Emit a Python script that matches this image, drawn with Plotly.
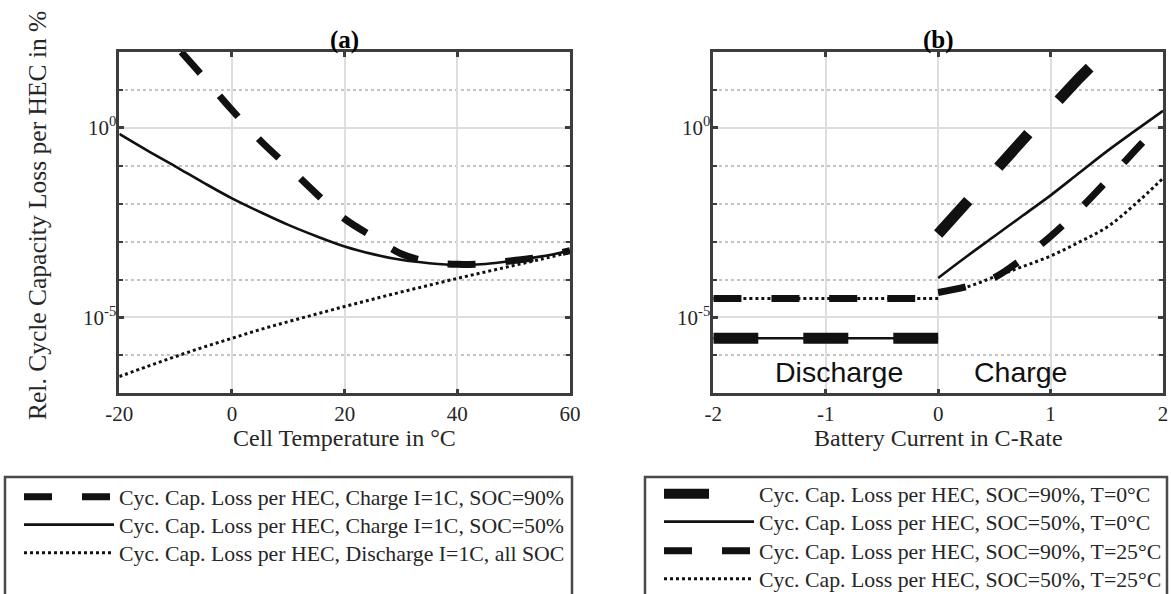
import numpy as np
import plotly.graph_objects as go

# ---------------- data ----------------
# Panel (a): loss vs. cell temperature, values given as log10(loss in %)
temp_c = [-20, -15, -10, -5, 0, 5, 10, 15, 20, 25, 30, 35, 40, 45, 50, 55, 60]
temp_c_soc90 = [-9, -5, 0, 5, 10, 15, 20, 25, 30, 35, 40, 45, 50, 55, 60]  # curve leaves the top edge at about -9 °C
a_chg_soc90_log10 = [2.0, 1.33, 0.47, -0.33, -1.03, -1.74, -2.4, -2.87,
                     -3.32, -3.53, -3.6, -3.58, -3.5, -3.4, -3.24]
a_chg_soc50_log10 = [-0.16, -0.6, -1.02, -1.45, -1.86, -2.22, -2.56, -2.86, -3.13, -3.33,
                     -3.48, -3.57, -3.62, -3.59, -3.5, -3.39, -3.24]
a_dis_log10 = [-6.56, -6.29, -6.03, -5.78, -5.55, -5.32, -5.11, -4.91, -4.71, -4.52,
               -4.33, -4.15, -3.97, -3.8, -3.63, -3.46, -3.28]

# Panel (b): loss vs. C-rate (discharge: I<0, charge: I>0)
i_dis = [-2, -1, 0]
i_chg = [0, 0.25, 0.5, 0.75, 1.0, 1.25, 1.5, 1.75, 2.0]
b_dis_T0_log10 = [-5.55, -5.55, -5.55]
b_dis_T25_log10 = [-4.5, -4.5, -4.5]
b_chg_soc90_T0_log10 = [-2.8, -1.95, -1.12, -0.3, 0.5, 1.3, 2.05, 2.8, 3.5]
b_chg_soc50_T0_log10 = [-3.96, -3.4, -2.86, -2.32, -1.78, -1.2, -0.62, -0.08, 0.45]
b_chg_soc90_T25_log10 = [-4.34, -4.19, -3.95, -3.45, -2.86, -2.17, -1.4, -0.6, 0.2]
b_chg_soc50_T25_log10 = [-4.34, -4.2, -3.93, -3.66, -3.38, -3.02, -2.62, -2.02, -1.33]

a_xticks = [-20, 0, 20, 40, 60]
b_xticks = [-2, -1, 0, 1, 2]
y_major = [1e-5, 1e0]
y_major_text = ["10<sup>-5</sup>", "10<sup>0</sup>"]
y_minor = [1e-7, 1e-6, 1e-4, 1e-3, 1e-2, 1e-1, 1e1, 1e2]

names_a = ["Cyc. Cap. Loss per HEC, Charge I=1C, SOC=90%",
           "Cyc. Cap. Loss per HEC, Charge I=1C, SOC=50%",
           "Cyc. Cap. Loss per HEC, Discharge I=1C, all SOC"]
names_b = ["Cyc. Cap. Loss per HEC, SOC=90%, T=0°C",
           "Cyc. Cap. Loss per HEC, SOC=50%, T=0°C",
           "Cyc. Cap. Loss per HEC, SOC=90%, T=25°C",
           "Cyc. Cap. Loss per HEC, SOC=50%, T=25°C"]

# ---------------- styling ----------------
W, H = 1171, 594
SERIF = "Liberation Serif"
SANS = "Liberation Sans"
INK = "#111111"
AX = "#3d3d3d"
TXT = "#262626"


def px(x):
    return x / W


def py(y):
    return 1 - y / H


def pow10(vals):
    return [None if v is None else 10 ** v for v in vals]


def joined(xa, ya, xb, yb):
    return list(xa) + [None] + list(xb), pow10(ya) + [None] + pow10(yb)


fig = go.Figure()

# panel (a)
fig.add_trace(go.Scatter(x=temp_c_soc90, y=pow10(a_chg_soc90_log10), mode="lines", name=names_a[0],
                         line=dict(color=INK, width=7, dash="28px,30px", shape="spline"),
                         xaxis="x", yaxis="y", legend="legend"))
fig.add_trace(go.Scatter(x=temp_c, y=pow10(a_chg_soc50_log10), mode="lines", name=names_a[1],
                         line=dict(color=INK, width=2.6, shape="spline"),
                         xaxis="x", yaxis="y", legend="legend2"))
fig.add_trace(go.Scatter(x=temp_c, y=pow10(a_dis_log10), mode="lines", name=names_a[2],
                         line=dict(color=INK, width=3, dash="dot", shape="spline"),
                         xaxis="x", yaxis="y", legend="legend3"))

# panel (b)
bx, by = joined(i_dis, b_dis_T0_log10, i_chg, b_chg_soc90_T0_log10)
fig.add_trace(go.Scatter(x=bx, y=by, mode="lines", name=names_b[0], connectgaps=False,
                         line=dict(color=INK, width=11, dash="45px,45px"),
                         xaxis="x2", yaxis="y2", legend="legend4"))
bx, by = joined(i_dis, b_dis_T0_log10, i_chg, b_chg_soc50_T0_log10)
fig.add_trace(go.Scatter(x=bx, y=by, mode="lines", name=names_b[1], connectgaps=False,
                         line=dict(color=INK, width=2.6, shape="spline"),
                         xaxis="x2", yaxis="y2", legend="legend5"))
bx, by = joined(i_dis, b_dis_T25_log10, i_chg, b_chg_soc90_T25_log10)
fig.add_trace(go.Scatter(x=bx, y=by, mode="lines", name=names_b[2], connectgaps=False,
                         line=dict(color=INK, width=7, dash="28px,30px", shape="spline"),
                         xaxis="x2", yaxis="y2", legend="legend6"))
bx, by = joined(i_dis, b_dis_T25_log10, i_chg, b_chg_soc50_T25_log10)
fig.add_trace(go.Scatter(x=bx, y=by, mode="lines", name=names_b[3], connectgaps=False,
                         line=dict(color=INK, width=3, dash="dot", shape="spline"),
                         xaxis="x2", yaxis="y2", legend="legend7"))

tickfont = dict(family=SERIF, size=21, color=TXT)


def xaxis_cfg(domain, rng, vals):
    return dict(domain=domain, range=rng, tickmode="array", tickvals=vals,
                ticktext=[str(v) for v in vals], tickfont=tickfont,
                showgrid=True, gridcolor="#dedede", gridwidth=2,
                showline=True, linecolor=AX, linewidth=2.5, mirror="ticks",
                ticks="inside", ticklen=5, tickwidth=2.5, tickcolor=AX,
                zeroline=False, automargin=False, fixedrange=True)


def yaxis_cfg(anchor):
    return dict(type="log", range=[-7, 2], domain=[py(393.3), py(52)], anchor=anchor,
                tickmode="array", tickvals=y_major, ticktext=y_major_text, tickfont=tickfont,
                ticklabelstandoff=-4,
                showgrid=True, gridcolor="#dedede", gridwidth=2,
                showline=True, linecolor=AX, linewidth=2.5, mirror="ticks",
                ticks="inside", ticklen=5, tickwidth=2.5, tickcolor=AX,
                minor=dict(tickmode="array", tickvals=y_minor, showgrid=True,
                           gridcolor="#c4c4c4", gridwidth=2, griddash="dot",
                           ticks="inside", ticklen=4, tickwidth=2, tickcolor=AX),
                zeroline=False, automargin=False, fixedrange=True)


leg_common = dict(bgcolor="rgba(0,0,0,0)", borderwidth=0, itemwidth=90,
                  font=dict(family=SERIF, size=21.8, color=TXT),
                  xanchor="left", yanchor="middle", itemclick=False, itemdoubleclick=False)

left_rows = [497, 525, 553]
right_rows = [494, 522, 551, 579]
legends = {}
for k, yrow in enumerate(left_rows):
    key = "legend" if k == 0 else f"legend{k + 1}"
    legends[key] = dict(x=px(19), y=py(yrow), **leg_common)
for k, yrow in enumerate(right_rows):
    legends[f"legend{k + 4}"] = dict(x=px(659), y=py(yrow), **leg_common)

fig.update_layout(
    width=W, height=H, margin=dict(l=0, r=0, t=0, b=0, autoexpand=False),
    paper_bgcolor="white", plot_bgcolor="white",
    xaxis=xaxis_cfg([px(119.3), px(570)], [-20, 60], a_xticks) | dict(anchor="y"),
    yaxis=yaxis_cfg("x"),
    xaxis2=xaxis_cfg([px(713.3), px(1163)], [-2, 2], b_xticks) | dict(anchor="y2"),
    yaxis2=yaxis_cfg("x2"),
    showlegend=True,
    **legends,
)

# legend frames
for x0, x1 in [(5, 572), (645, 1167)]:
    fig.add_shape(type="rect", xref="paper", yref="paper", x0=px(x0), x1=px(x1),
                  y0=py(640), y1=py(477), line=dict(color="#4a4a4a", width=2.5),
                  fillcolor="rgba(0,0,0,0)", layer="below")

ann = []
# panel titles
ann.append(dict(text="<b>(a)</b>", x=px(344.7), y=py(40), xref="paper", yref="paper",
                showarrow=False, font=dict(family=SERIF, size=25, color="#000"),
                xanchor="center", yanchor="middle"))
ann.append(dict(text="<b>(b)</b>", x=px(938), y=py(40), xref="paper", yref="paper",
                showarrow=False, font=dict(family=SERIF, size=25, color="#000"),
                xanchor="center", yanchor="middle"))
# axis titles
ann.append(dict(text="Cell Temperature in °C", x=px(344.7), y=py(438), xref="paper", yref="paper",
                showarrow=False, font=dict(family=SERIF, size=24, color=TXT),
                xanchor="center", yanchor="middle"))
ann.append(dict(text="Battery Current in C-Rate", x=px(938), y=py(438), xref="paper", yref="paper",
                showarrow=False, font=dict(family=SERIF, size=24, color=TXT),
                xanchor="center", yanchor="middle"))
ann.append(dict(text="Rel. Cycle Capacity Loss per HEC in %", x=px(37), y=py(216),
                xref="paper", yref="paper", textangle=-90, showarrow=False,
                font=dict(family=SERIF, size=25.5, color=TXT), xanchor="center", yanchor="middle"))
# region labels in panel (b)
ann.append(dict(text="Discharge", x=-0.88, y=-6.45, xref="x2", yref="y2", showarrow=False,
                font=dict(family=SANS, size=28.5, color="#111"), xanchor="center", yanchor="middle"))
ann.append(dict(text="Charge", x=0.73, y=-6.45, xref="x2", yref="y2", showarrow=False,
                font=dict(family=SANS, size=28.5, color="#111"), xanchor="center", yanchor="middle"))
fig.update_layout(annotations=ann)

fig.write_html("out.html")
